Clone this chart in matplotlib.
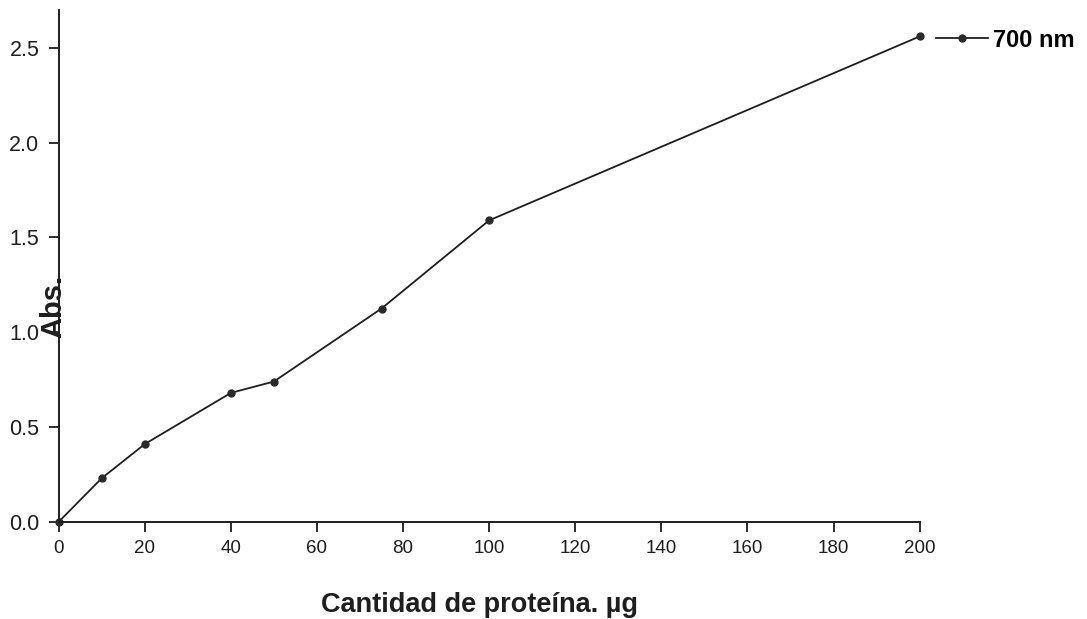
import numpy as np
import matplotlib.pyplot as plt

plt.rcParams['font.family'] = ['Liberation Sans', 'DejaVu Sans']

# data
proteina = [0, 10, 20, 40, 50, 75, 100, 200]
abs_700 = [0.0, 0.23, 0.41, 0.68, 0.74, 1.125, 1.59, 2.56]

x_ticks = [0, 20, 40, 60, 80, 100, 120, 140, 160, 180, 200]
y_ticks = [0.0, 0.5, 1.0, 1.5, 2.0, 2.5]

fig = plt.figure(figsize=(10.87, 6.19), dpi=100)
ax = fig.add_axes([0.054, 0.157, 0.792, 0.827])

ax.plot(proteina, abs_700, '-', color='#1e1e1e', lw=1.3,
        marker='o', ms=5, mfc='#2a2a2a', mec='#2a2a2a',
        clip_on=False, label='700 nm')

ax.set_xlim(0, 200)
ax.set_ylim(0, 2.70)
ax.set_xticks(x_ticks)
ax.set_yticks(y_ticks)
ax.set_yticklabels(['%.1f' % v for v in y_ticks], fontsize=15.5)
ax.set_xticklabels([str(v) for v in x_ticks], fontsize=13.5)

ax.spines['top'].set_visible(False)
ax.spines['right'].set_visible(False)
for s in ['left', 'bottom']:
    ax.spines[s].set_linewidth(1.4)
    ax.spines[s].set_color('#1e1e1e')
ax.tick_params(axis='both', direction='out', length=7, width=1.3, colors='#1e1e1e')
ax.tick_params(axis='y', pad=7)
ax.tick_params(axis='x', pad=6)

# axis labels placed like the original (Abs. sits over the tick labels)
fig.text(0.0492, 0.5057, 'Abs.', rotation=90, fontsize=21, fontweight='bold',
         ha='center', va='center', color='#1e1e1e')
fig.text(0.4407, 0.0113, 'Cantidad de proteína. µg', fontsize=19.5, fontweight='bold',
         ha='center', va='baseline', color='#1e1e1e')

ax.legend(loc='center left', bbox_to_anchor=(1.0186, 0.941), frameon=False,
          borderpad=0, borderaxespad=0,
          handlelength=2.2, handletextpad=0.25,
          prop={'weight': 'bold', 'size': 17})

fig.savefig('out.png', dpi=100)
